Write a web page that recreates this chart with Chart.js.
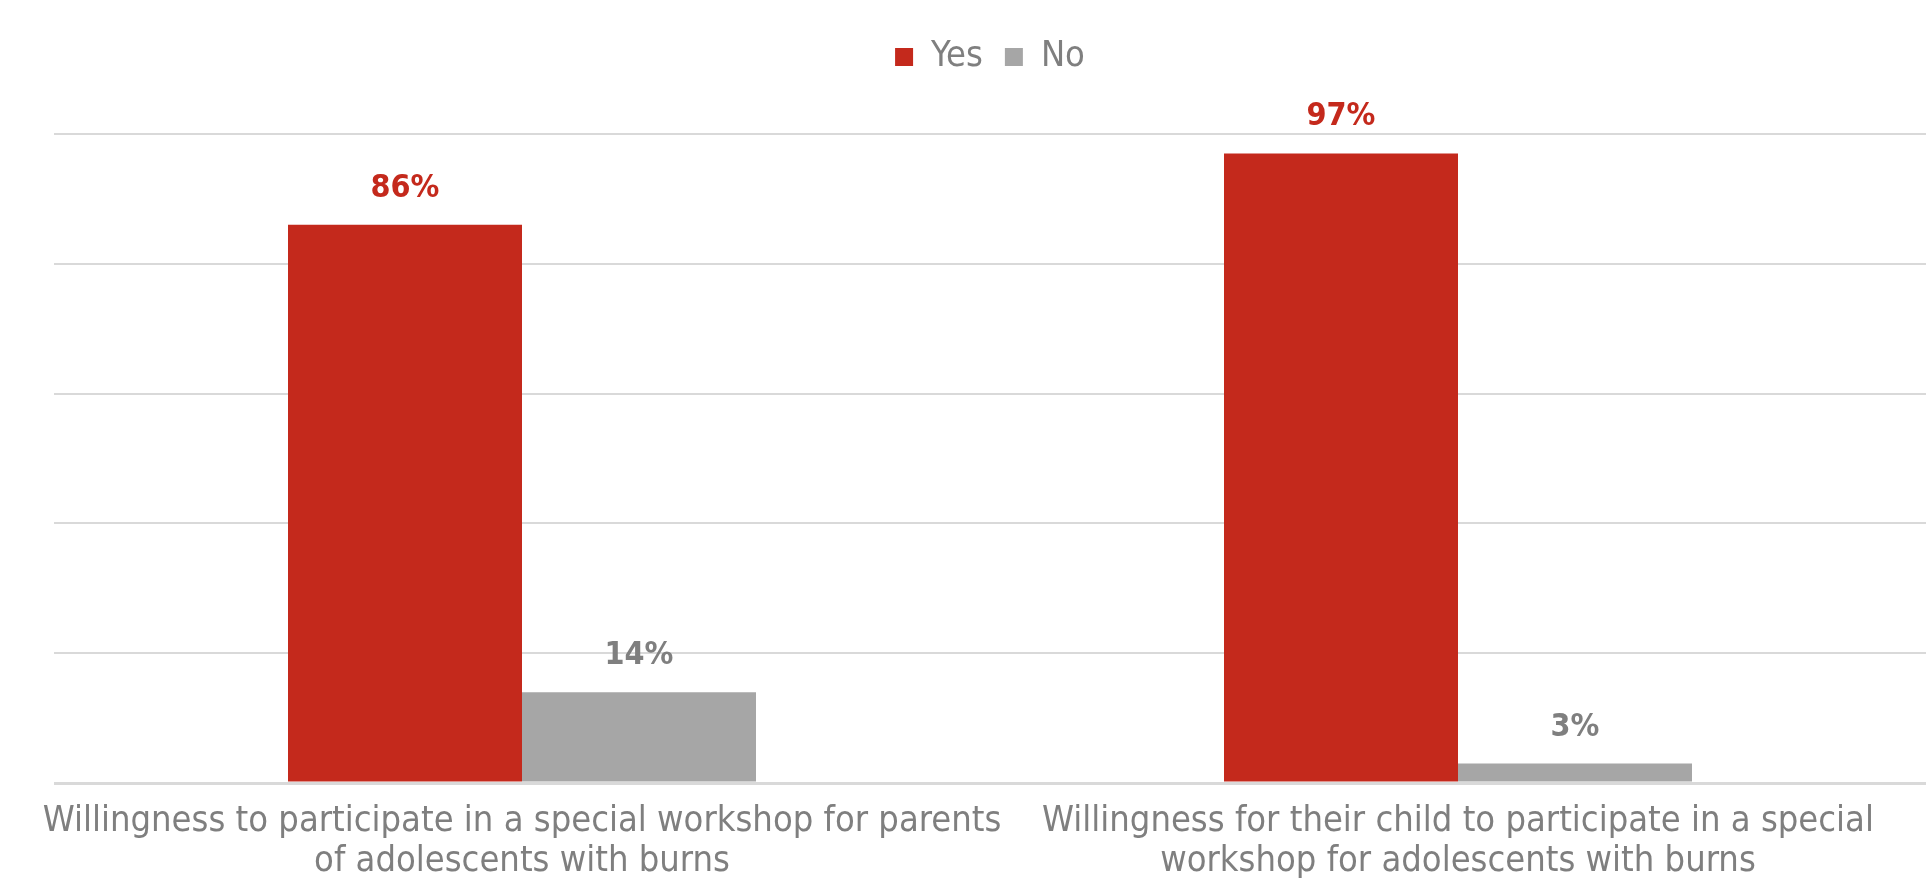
<!DOCTYPE html>
<html lang="en">
<head>
    <meta charset="UTF-8">
    <title>Workshop willingness</title>
    <script src="https://cdn.jsdelivr.net/npm/chart.js@4/dist/chart.umd.min.js"></script>
    <style>
        html, body { margin: 0; padding: 0; background: #fff; }
        #wrap { width: 1930px; height: 892px; }
    </style>
</head>
<body>
<div id="wrap"><canvas id="chart"></canvas></div>

<script>
    // survey answers, in percent
    const categories = [
        ["Willingness to participate in a special workshop for parents", "of adolescents with burns"],
        ["Willingness for their child to participate in a special", "workshop for adolescents with burns"]
    ];
    const yesValues = [86, 97];
    const noValues = [14, 3];

    const RED = "#C4291C";
    const GREY = "#A6A6A6";
    const TEXT = "#7F7F7F";
    const FONT = "'DejaVu Sans Condensed', 'DejaVu Sans', sans-serif";

    // percent labels above each bar
    const valueLabels = {
        id: "valueLabels",
        afterDatasetsDraw(chart) {
            const ctx = chart.ctx;
            ctx.save();
            ctx.font = "bold 32px " + FONT;
            ctx.textAlign = "center";
            ctx.textBaseline = "alphabetic";
            chart.data.datasets.forEach((ds, i) => {
                chart.getDatasetMeta(i).data.forEach((bar, j) => {
                    ctx.fillStyle = ds.labelColor;
                    ctx.fillText(ds.data[j] + "%", bar.x, bar.y - 28);
                });
            });
            ctx.restore();
        }
    };

    // extra room between legend and plot
    const legendGap = {
        id: "legendGap",
        beforeInit(chart) {
            const fit = chart.legend.fit;
            chart.legend.fit = function () {
                fit.bind(chart.legend)();
                this.height += 49;
            };
        }
    };

    new Chart(document.getElementById("chart"), {
        type: "bar",
        data: {
            labels: categories,
            datasets: [
                { label: "Yes", data: yesValues, backgroundColor: RED, labelColor: RED },
                { label: "No", data: noValues, backgroundColor: GREY, labelColor: TEXT }
            ]
        },
        options: {
            responsive: true,
            maintainAspectRatio: false,
            animation: false,
            categoryPercentage: 0.5,
            barPercentage: 1,
            layout: { padding: { left: 54, right: 4, top: 17, bottom: 0 } },
            plugins: {
                tooltip: { enabled: false },
                legend: {
                    position: "top",
                    labels: {
                        boxWidth: 18,
                        boxHeight: 18,
                        padding: 22,
                        color: TEXT,
                        font: { family: FONT, size: 36 }
                    }
                }
            },
            scales: {
                x: {
                    grid: { display: false, drawTicks: false },
                    border: { display: false },
                    afterFit: scale => { scale.height = 109; },
                    ticks: {
                        color: TEXT,
                        padding: 19,
                        maxRotation: 0,
                        autoSkip: false,
                        font: { family: FONT, size: 36, lineHeight: 1.1 }
                    }
                },
                y: {
                    min: 0,
                    max: 100,
                    ticks: { stepSize: 20, display: false },
                    border: { display: false },
                    grid: {
                        color: "#D9D9D9",
                        lineWidth: c => c.tick && c.tick.value === 0 ? 3 : 2,
                        drawTicks: false
                    }
                }
            }
        },
        plugins: [valueLabels, legendGap]
    });
</script>
</body>
</html>
